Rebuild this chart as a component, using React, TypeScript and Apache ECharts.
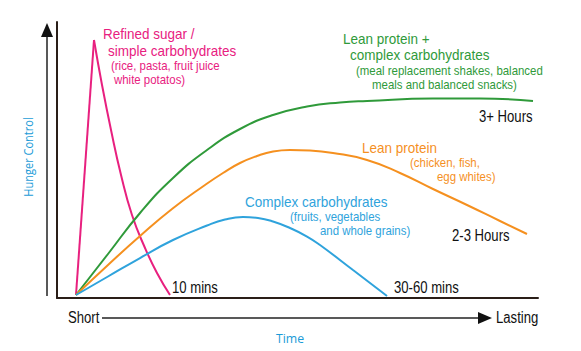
import React, { useEffect, useRef } from "react";
import * as echarts from "echarts";

// Time (0-100, arbitrary) vs hunger control (0-100, arbitrary)
const sugarRise: number[][] = [[3.95, 1.09], [7.69, 93.48]];
const sugarFall: number[][] = [[7.69, 93.48], [9.36, 77.17], [11.23, 60.87], [13.31, 44.57], [15.59, 30.07], [18.3, 18.12], [20.79, 9.06], [23.49, 1.09]];
const leanComplex: number[][] = [[3.95, 1.09], [10.6, 15.94], [17.26, 30.8], [24.12, 43.48], [31.19, 53.62], [38.05, 61.23], [44.91, 66.3], [51.98, 69.38], [58.84, 70.83], [64.45, 71.38], [78.17, 72.28], [87.94, 72.28], [98.96, 71.38]];
const leanProtein: number[][] = [[3.95, 1.09], [10.6, 11.96], [17.26, 22.46], [23.91, 32.25], [30.77, 40.94], [34.51, 45.29], [38.05, 48.91], [41.58, 51.45], [44.91, 53.08], [48.44, 53.62], [52.6, 53.44], [57.38, 52.54], [64.45, 50.0], [71.31, 45.29], [78.17, 39.49], [85.24, 33.7], [92.1, 27.9], [97.71, 23.19]];
const complexCarbs: number[][] = [[3.95, 1.09], [10.6, 7.79], [17.26, 14.49], [24.12, 21.01], [31.19, 26.27], [34.93, 28.44], [38.67, 29.35], [41.79, 28.99], [44.91, 27.72], [48.44, 25.36], [51.98, 22.28], [54.68, 19.2], [61.54, 10.14], [68.61, 0.72]];

const sugarLabel = ["Refined sugar /", "simple carbohydrates"];
const sugarNote = ["(rice, pasta, fruit juice", "white potatos)"];
const leanComplexLabel = ["Lean protein +", "complex carbohydrates"];
const leanComplexNote = ["(meal replacement shakes, balanced", "meals and balanced snacks)"];
const leanProteinLabel = ["Lean protein"];
const leanProteinNote = ["(chicken, fish,", "egg whites)"];
const complexLabel = ["Complex carbohydrates"];
const complexNote = ["(fruits, vegetables", "and whole grains)"];
const durationLabels = ["10 mins", "30-60 mins", "3+ Hours", "2-3 Hours"];
const axisWords = ["Short", "Lasting", "Time", "Hunger Control"];

const PINK = "#e8207f";
const GREEN = "#2f9a3a";
const ORANGE = "#f5901f";
const BLUE = "#2fa3dc";
const DARK = "#2a1e18";
const SANS = "'Liberation Sans', Arial, sans-serif";
const PLAIN = "'Open Sans', 'Noto Sans', sans-serif";

function txt(text: string, x: number, y: number, fill: string, size: number, scale: number, family = SANS, extra: any = {}) {
  return {
    type: "text",
    x,
    y,
    scaleX: scale,
    silent: true,
    ...extra,
    style: {
      text,
      fill,
      fontSize: size,
      fontFamily: family,
      textAlign: extra.align || "left",
      textVerticalAlign: "middle",
      align: extra.align || "left",
      verticalAlign: "middle",
    },
  };
}

const MAIN = 15, MAIN_S = 0.9, NOTE = 13, NOTE_S = 0.88, BLK = 16, BLK_S = 0.82;

export default function App() {
  const ref = useRef<HTMLDivElement>(null);
  useEffect(() => {
    if (!ref.current) return;
    const chart = echarts.init(ref.current, null, { renderer: "svg" });
    const line = (data: number[][], color: string, smooth: number | boolean) => ({
      type: "line",
      data,
      smooth,
      symbol: "none",
      lineStyle: { color, width: 2 },
      silent: true,
    });
    const graphics: any[] = [
      // pink labels
      txt(sugarLabel[0], 103, 34, PINK, MAIN, MAIN_S),
      txt(sugarLabel[1], 108, 51, PINK, MAIN, MAIN_S),
      txt(sugarNote[0], 111, 66, PINK, NOTE, NOTE_S),
      txt(sugarNote[1], 114, 80, PINK, NOTE, NOTE_S),
      // green
      txt(leanComplexLabel[0], 343, 39, GREEN, MAIN, MAIN_S),
      txt(leanComplexLabel[1], 350, 55, GREEN, MAIN, MAIN_S),
      txt(leanComplexNote[0], 356, 71, GREEN, NOTE, NOTE_S),
      txt(leanComplexNote[1], 372, 85, GREEN, NOTE, NOTE_S),
      // orange
      txt(leanProteinLabel[0], 362, 148, ORANGE, MAIN, MAIN_S),
      txt(leanProteinNote[0], 410, 163, ORANGE, NOTE, NOTE_S),
      txt(leanProteinNote[1], 437, 177, ORANGE, NOTE, NOTE_S),
      // blue
      txt(complexLabel[0], 245, 202, BLUE, MAIN, MAIN_S),
      txt(complexNote[0], 290, 217, BLUE, NOTE, NOTE_S),
      txt(complexNote[1], 320, 231, BLUE, NOTE, NOTE_S),
      // durations
      txt(durationLabels[0], 172, 288, "#111", BLK, BLK_S),
      txt(durationLabels[1], 394, 288, "#111", BLK, BLK_S),
      txt(durationLabels[2], 479, 117, "#111", BLK, BLK_S),
      txt(durationLabels[3], 452, 236, "#111", BLK, BLK_S),
      // axis words
      txt(axisWords[0], 68, 318, "#111", BLK, BLK_S),
      txt(axisWords[1], 496, 318, "#111", BLK, BLK_S),
      txt(axisWords[2], 290, 338, "#1a9bd7", 13, 0.95, PLAIN, { align: "center" }),
      txt(axisWords[3], 28, 157, "#1a9bd7", 13, 0.85, PLAIN, { align: "center", rotation: Math.PI / 2 }),
      // time arrow
      { type: "line", silent: true, shape: { x1: 102, y1: 318, x2: 482, y2: 318 }, style: { stroke: "#222", lineWidth: 1.5 } },
      { type: "polygon", silent: true, shape: { points: [[478, 312], [492, 318], [478, 324]] }, style: { fill: "#111" } },
      // hunger arrow
      { type: "line", silent: true, shape: { x1: 47, y1: 34, x2: 47, y2: 296 }, style: { stroke: "#222", lineWidth: 1.5 } },
      { type: "polygon", silent: true, shape: { points: [[41, 37], [47, 23], [53, 37]] }, style: { fill: "#111" } },
    ];
    chart.setOption({
      animation: false,
      backgroundColor: "#ffffff",
      grid: { left: 57, right: 43, top: 22, bottom: 53 },
      xAxis: {
        type: "value",
        min: 0,
        max: 100,
        axisLine: { show: true, lineStyle: { color: DARK, width: 2 } },
        axisTick: { show: false },
        axisLabel: { show: false },
        splitLine: { show: false },
      },
      yAxis: {
        type: "value",
        min: 0,
        max: 100,
        axisLine: { show: true, lineStyle: { color: DARK, width: 2 } },
        axisTick: { show: false },
        axisLabel: { show: false },
        splitLine: { show: false },
      },
      series: [
        line(sugarRise, PINK, false),
        line(sugarFall, PINK, 0.5),
        line(leanComplex, GREEN, 0.5),
        line(leanProtein, ORANGE, 0.5),
        line(complexCarbs, BLUE, 0.5),
      ],
      graphic: graphics,
    });
    return () => chart.dispose();
  }, []);
  return <div ref={ref} style={{ width: 581, height: 351, position: "absolute", left: 0, top: 0 }} />;
}
